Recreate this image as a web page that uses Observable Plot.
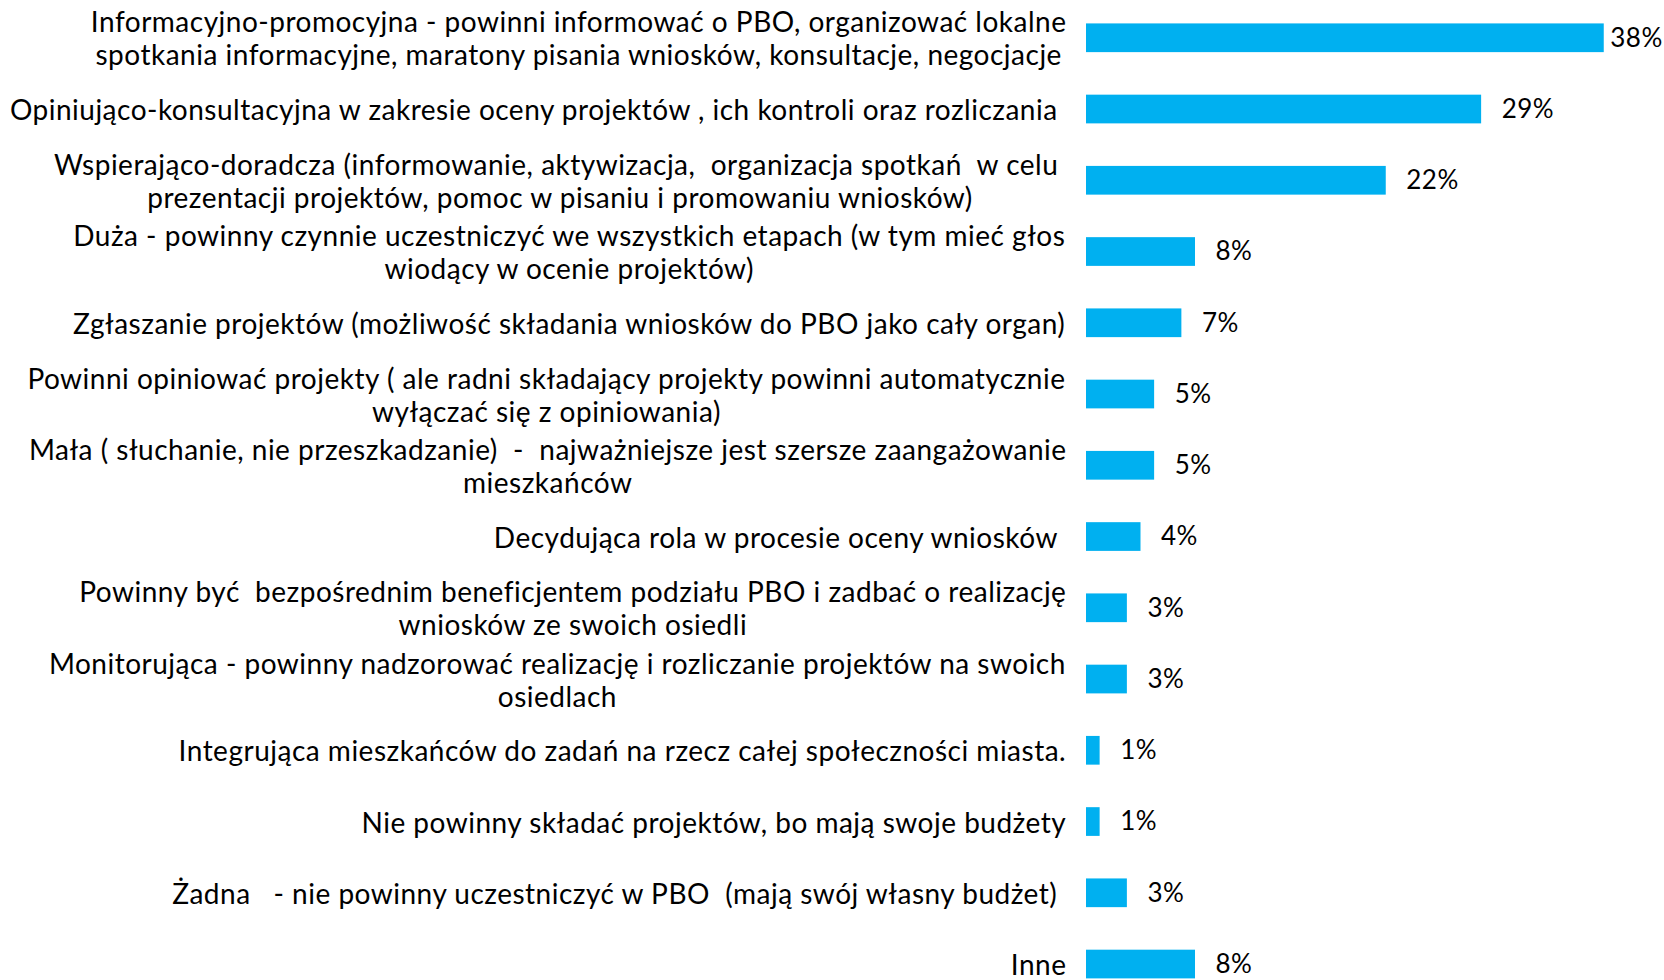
<!DOCTYPE html>
<html><head><meta charset="utf-8">
<script src="https://cdn.jsdelivr.net/npm/d3@7"></script>
<script src="https://cdn.jsdelivr.net/npm/@observablehq/plot@0.6"></script>
<style>
  html,body{margin:0;padding:0;background:#fff;}
  svg text{white-space:pre;}
</style>
</head><body><div id="chart"></div>
<script>
const categories = [
  "Informacyjno-promocyjna - powinni informować o PBO, organizować lokalne\nspotkania informacyjne, maratony pisania wniosków, konsultacje, negocjacje",
  "Opiniująco-konsultacyjna w zakresie oceny projektów , ich kontroli oraz rozliczania ",
  "Wspierająco-doradcza (informowanie, aktywizacja,  organizacja spotkań  w celu \nprezentacji projektów, pomoc w pisaniu i promowaniu wniosków)",
  "Duża - powinny czynnie uczestniczyć we wszystkich etapach (w tym mieć głos\nwiodący w ocenie projektów)",
  "Zgłaszanie projektów (możliwość składania wniosków do PBO jako cały organ)",
  "Powinni opiniować projekty ( ale radni składający projekty powinni automatycznie\nwyłączać się z opiniowania)",
  "Mała ( słuchanie, nie przeszkadzanie)  -  najważniejsze jest szersze zaangażowanie\nmieszkańców",
  "Decydująca rola w procesie oceny wniosków ",
  "Powinny być  bezpośrednim beneficjentem podziału PBO i zadbać o realizację\nwniosków ze swoich osiedli",
  "Monitorująca - powinny nadzorować realizację i rozliczanie projektów na swoich\nosiedlach",
  "Integrująca mieszkańców do zadań na rzecz całej społeczności miasta.",
  "Nie powinny składać projektów, bo mają swoje budżety",
  "Żadna   - nie powinny uczestniczyć w PBO  (mają swój własny budżet) ",
  "Inne"
];
const values = [38, 29, 22, 8, 7, 5, 5, 4, 3, 3, 1, 1, 3, 8];
const valueLabels = ["38%", "29%", "22%", "8%", "7%", "5%", "5%", "4%", "3%", "3%", "1%", "1%", "3%", "8%"];

const data = categories.map((c, i) => ({category: c, value: values[i], label: valueLabels[i]}));
const maxValue = d3.max(values);

const FONT_SIZE = 28;
const VALUE_FONT_SIZE = 26;
const LETTER_SPACING = 0.5;
const FONT_FAMILY = "Lato, 'DejaVu Sans', sans-serif";
const TEXT_COLOR = "#000000";
const BAR_COLOR = "#00B0F0";
const LABEL_GAP = 20;

const ctx = document.createElement("canvas").getContext("2d");
ctx.font = `${FONT_SIZE}px ${FONT_FAMILY}`;
const boxWidth = (s) => d3.max(s.split("\n"), (l) => ctx.measureText(l).width + LETTER_SPACING * [...l].length);

const categoryMarks = data.map((d) =>
  Plot.text([d], {
    y: "category",
    text: "category",
    frameAnchor: "left",
    textAnchor: "middle",
    lineAnchor: "middle",
    lineHeight: 1.18,
    dx: -LABEL_GAP - boxWidth(d.category) / 2,
    fontSize: FONT_SIZE,
    fill: TEXT_COLOR
  })
);

const valueStyle = {textAnchor: "start", fontSize: VALUE_FONT_SIZE, fill: TEXT_COLOR};

const chart = Plot.plot({
  width: 1664,
  height: 980,
  marginLeft: 1086,
  marginRight: 33,
  marginTop: 0,
  marginBottom: 0,
  style: {fontFamily: FONT_FAMILY, fontSize: FONT_SIZE + "px", background: "#fff", color: TEXT_COLOR, letterSpacing: LETTER_SPACING + "px"},
  x: {domain: [0, 40], axis: null},
  y: {domain: categories, axis: null, paddingInner: 0.597, paddingOuter: 0.1755, align: 0.936, round: false},
  marks: [
    Plot.barX(data, {x: "value", y: "category", fill: BAR_COLOR}),
    Plot.text(data.filter((d) => d.value < maxValue), {x: "value", y: "category", text: "label", dx: 20, ...valueStyle}),
    Plot.text(data.filter((d) => d.value === maxValue), {x: "value", y: "category", text: "label", dx: 6, ...valueStyle}),
    ...categoryMarks
  ]
});
document.getElementById("chart").appendChild(chart);
</script>
</body></html>
